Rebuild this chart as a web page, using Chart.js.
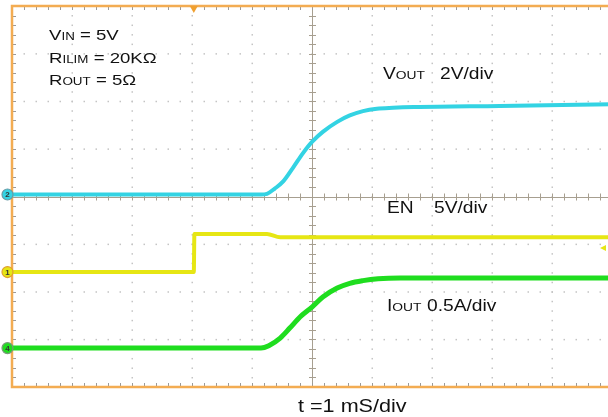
<!DOCTYPE html>
<html lang="en">
  <head>
    <meta charset="UTF-8" />
    <title>Soft start scope capture</title>
    <style>
      body {
        margin: 0;
        padding: 0;
        background-color: #fff;
        overflow: hidden;
      }

      .scope {
        position: relative;
        width: 620px;
        height: 417px;
      }

      .label {
        position: absolute;
        font-family: "Liberation Sans", Arial, sans-serif;
        color: #111;
        white-space: nowrap;
        line-height: 1;
        transform: scaleX(1.2);
        transform-origin: left top;
      }

      .sc {
        font-size: 0.72em;
      }
    </style>
  </head>
  <body>
    <div class="scope">
      <canvas id="scopeChart" width="620" height="417"></canvas>
      <div class="label" style="left: 49px; top: 27px; font-size: 15.5px">V<span class="sc">IN</span> = 5V</div>
      <div class="label" style="left: 49px; top: 49.5px; font-size: 15.5px">R<span class="sc">ILIM</span> = 20KΩ</div>
      <div class="label" style="left: 49px; top: 72px; font-size: 15.5px">R<span class="sc">OUT</span> = 5Ω</div>
      <div class="label" style="left: 383px; top: 65.5px; font-size: 16px">V<span class="sc">OUT</span></div>
      <div class="label" style="left: 440px; top: 65.5px; font-size: 16px">2V/div</div>
      <div class="label" style="left: 387px; top: 200px; font-size: 16px">EN</div>
      <div class="label" style="left: 434px; top: 200px; font-size: 16px">5V/div</div>
      <div class="label" style="left: 387px; top: 297.5px; font-size: 16px">I<span class="sc">OUT</span></div>
      <div class="label" style="left: 427px; top: 297.5px; font-size: 16px">0.5A/div</div>
      <div class="label" style="left: 298px; top: 397px; font-size: 18px">t =1 mS/div</div>
    </div>

    <script src="https://cdn.jsdelivr.net/npm/chart.js"></script>
    <script>
      // time in ms (1 mS/div, centre of screen = 0)
      const voutTime = [-5, -0.85, -0.75, -0.62, -0.48, -0.32, -0.15, 0, 0.18, 0.42, 0.63, 0.85, 1.08, 1.35, 1.7, 3.13, 5];
      const voutVolts = [0, 0, 0.03, 0.25, 0.55, 1.11, 1.74, 2.21, 2.63, 3.05, 3.32, 3.5, 3.6, 3.64, 3.67, 3.72, 3.79];

      const enTime = [-5, -1.97, -1.96, -0.75, -0.53, 5];
      const enVolts = [0, 0, 3.99, 3.99, 3.64, 3.64];

      const ioutTime = [-5, -0.85, -0.72, -0.53, -0.37, -0.2, 0, 0.18, 0.42, 0.63, 0.85, 1.1, 1.47, 5];
      const ioutAmps = [0, 0, 0.025, 0.105, 0.21, 0.326, 0.43, 0.536, 0.63, 0.68, 0.708, 0.727, 0.735, 0.735];

      const triggerTime = -1.97;
      const triggerLevelDiv = -1.08;

      // channel settings: scale per division and ground position in divisions
      const channels = [
        { num: "2", time: voutTime, values: voutVolts, perDiv: 2, offset: 0.042, color: "#33d3e3", edge: "#6a9aa6", width: 4 },
        { num: "1", time: enTime, values: enVolts, perDiv: 5, offset: -1.586, color: "#e6e614", edge: "#e0a030", width: 4 },
        { num: "4", time: ioutTime, values: ioutAmps, perDiv: 0.5, offset: -3.183, color: "#1fdd1f", edge: "#7a9a7a", width: 5 },
      ];

      const toPoints = (ch) => ch.time.map((t, i) => ({ x: t, y: ch.values[i] / ch.perDiv + ch.offset }));

      const minorSteps = (from, to) => {
        const out = [];
        for (let v = from * 5; v <= to * 5; v++) out.push(v / 5);
        return out;
      };

      const scopeGrid = {
        id: "scopeGrid",
        beforeDatasetsDraw(chart) {
          const { ctx, chartArea: a, scales } = chart;
          const px = (v) => scales.x.getPixelForValue(v);
          const py = (v) => scales.y.getPixelForValue(v);
          const xMinor = minorSteps(-5, 5);
          const yMinor = minorSteps(-4, 4);
          ctx.save();

          // dotted graticule
          ctx.fillStyle = "#c4c4c4";
          for (let k = -4; k <= 4; k++) {
            if (k === 0) continue;
            yMinor.forEach((v) => ctx.fillRect(px(k) - 0.5, py(v) - 0.5, 1.5, 1.5));
          }
          for (let k = -3; k <= 3; k++) {
            if (k === 0) continue;
            xMinor.forEach((v) => ctx.fillRect(px(v) - 0.5, py(k) - 0.5, 1.5, 1.5));
          }

          // centre cross with ticks
          ctx.strokeStyle = "#a79f90";
          ctx.lineWidth = 1;
          ctx.beginPath();
          ctx.moveTo(Math.round(px(0)) + 0.5, a.top);
          ctx.lineTo(Math.round(px(0)) + 0.5, a.bottom);
          ctx.moveTo(a.left, Math.round(py(0)) + 0.5);
          ctx.lineTo(a.right, Math.round(py(0)) + 0.5);
          yMinor.forEach((v) => {
            ctx.moveTo(px(0) - 3, Math.round(py(v)) + 0.5);
            ctx.lineTo(px(0) + 4, Math.round(py(v)) + 0.5);
          });
          xMinor.forEach((v) => {
            ctx.moveTo(Math.round(px(v)) + 0.5, py(0) - 3);
            ctx.lineTo(Math.round(px(v)) + 0.5, py(0) + 4);
          });
          ctx.stroke();

          // ticks on the frame
          ctx.strokeStyle = "#9a9a9a";
          ctx.beginPath();
          xMinor.forEach((v) => {
            const x = Math.round(px(v)) + 0.5;
            ctx.moveTo(x, a.top);
            ctx.lineTo(x, a.top + 4);
            ctx.moveTo(x, a.bottom);
            ctx.lineTo(x, a.bottom - 4);
          });
          yMinor.forEach((v) => {
            const y = Math.round(py(v)) + 0.5;
            ctx.moveTo(a.left, y);
            ctx.lineTo(a.left + 4, y);
          });
          ctx.stroke();

          // orange frame
          ctx.strokeStyle = "#f3ac52";
          ctx.lineWidth = 2.5;
          ctx.beginPath();
          ctx.moveTo(a.right + 5, a.top);
          ctx.lineTo(a.left, a.top);
          ctx.lineTo(a.left, a.bottom);
          ctx.lineTo(a.right + 5, a.bottom);
          ctx.stroke();
          ctx.restore();
        },
        afterDatasetsDraw(chart) {
          const { ctx, chartArea: a, scales } = chart;
          const px = (v) => scales.x.getPixelForValue(v);
          const py = (v) => scales.y.getPixelForValue(v);
          ctx.save();

          // trigger position marker
          const tx = px(triggerTime);
          ctx.fillStyle = "#f0a030";
          ctx.beginPath();
          ctx.moveTo(tx - 4, a.top);
          ctx.lineTo(tx + 4, a.top);
          ctx.lineTo(tx, a.top + 7);
          ctx.closePath();
          ctx.fill();

          // trigger level marker
          const ly = py(triggerLevelDiv);
          ctx.fillStyle = "#e6e614";
          ctx.beginPath();
          ctx.moveTo(600, ly);
          ctx.lineTo(606, ly - 3);
          ctx.lineTo(606, ly + 3);
          ctx.closePath();
          ctx.fill();

          // channel ground markers
          channels.forEach((ch) => {
            const y = py(ch.offset);
            ctx.beginPath();
            ctx.arc(a.left - 4.5, y, 5.5, 0, Math.PI * 2);
            ctx.fillStyle = ch.color;
            ctx.fill();
            ctx.lineWidth = 1.2;
            ctx.strokeStyle = ch.edge;
            ctx.stroke();
            ctx.fillStyle = "#333";
            ctx.font = "bold 8px 'Liberation Sans', Arial";
            ctx.textAlign = "center";
            ctx.textBaseline = "middle";
            ctx.fillText(ch.num, a.left - 4.5, y + 0.5);
          });
          ctx.restore();
        },
      };

      const ctx = document.getElementById("scopeChart").getContext("2d");

      new Chart(ctx, {
        type: "line",
        data: {
          datasets: channels.map((ch) => ({
            label: ch.num,
            data: toPoints(ch),
            borderColor: ch.color,
            borderWidth: ch.width,
            pointRadius: 0,
            fill: false,
            cubicInterpolationMode: "monotone",
          })),
        },
        options: {
          responsive: false,
          animation: false,
          devicePixelRatio: 1,
          layout: {
            padding: { left: 12, top: 6, right: 8, bottom: 30 },
          },
          scales: {
            x: { type: "linear", min: -5, max: 5, display: false },
            y: { type: "linear", min: -4, max: 4, display: false },
          },
          plugins: {
            legend: { display: false },
            tooltip: { enabled: false },
          },
        },
        plugins: [scopeGrid],
      });
    </script>
  </body>
</html>
